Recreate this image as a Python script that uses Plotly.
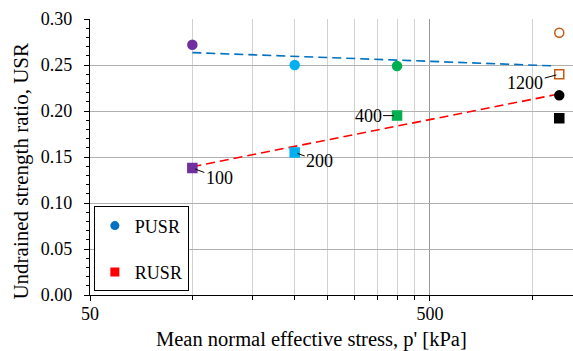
import math
import plotly.graph_objects as go

# ---- data ----
stress = [100, 200, 400, 1200, 1200]
pusr = [0.272, 0.250, 0.249, 0.285, 0.217]
rusr = [0.138, 0.155, 0.195, 0.240, 0.192]
point_colors = ["#7030A0", "#00B0F0", "#00B050", "#C55A11", "#000000"]
circle_symbols = ["circle", "circle", "circle", "circle-open", "circle"]
square_symbols = ["square", "square", "square", "square-open", "square"]

trend_x = [100, 1165]
pusr_trend = [0.2635, 0.249]
rusr_trend = [0.1395, 0.2176]

label_points_x = [100, 200, 400, 1200]
label_points_y = [0.138, 0.155, 0.195, 0.240]
label_texts = ["100", "200", "400", "1200"]
label_ax = [27, 25, -29, -34]
label_ay = [10, 9, 0, 9]

x_tick_vals = [50, 500]
x_minor_vals = [100, 150, 200, 250, 300, 350, 400, 450, 1000]

x_title = "Mean normal effective stress, p' [kPa]"
y_title = "Undrained strength ratio, USR"

FONT = "Liberation Serif, Times New Roman, serif"

fig = go.Figure()

fig.add_trace(go.Scatter(x=trend_x, y=pusr_trend, mode="lines",
                         line=dict(color="#0070C0", width=1.6, dash="9px,5px"),
                         showlegend=False, hoverinfo="skip"))
fig.add_trace(go.Scatter(x=trend_x, y=rusr_trend, mode="lines",
                         line=dict(color="#FF0000", width=1.6, dash="9px,5px"),
                         showlegend=False, hoverinfo="skip"))

fig.add_trace(go.Scatter(x=stress, y=pusr, mode="markers",
                         marker=dict(color=point_colors, symbol=circle_symbols, size=9,
                                     line=dict(width=1.5, color=point_colors)),
                         showlegend=False))
fig.add_trace(go.Scatter(x=stress, y=rusr, mode="markers",
                         marker=dict(color=point_colors, symbol=square_symbols, size=9,
                                     line=dict(width=1.5, color=point_colors)),
                         showlegend=False))

# legend entries
fig.add_trace(go.Scatter(x=[None], y=[None], mode="markers", name="PUSR",
                         marker=dict(color="#0070C0", symbol="circle", size=9),
                         legendgroup="a"))
fig.add_trace(go.Scatter(x=[None], y=[None], mode="markers", name="RUSR",
                         marker=dict(color="#FF0000", symbol="square", size=9),
                         legendgroup="b"))

for lx, ly, lt, ax, ay in zip(label_points_x, label_points_y, label_texts, label_ax, label_ay):
    fig.add_annotation(x=math.log10(lx), y=ly, text=lt, showarrow=True,
                       arrowhead=0, arrowwidth=1, arrowcolor="black",
                       ax=ax, ay=ay, standoff=3,
                       font=dict(family=FONT, size=18, color="black"))

# axis titles
fig.add_annotation(xref="paper", yref="paper", x=0.4596, y=-0.161, text=x_title,
                   showarrow=False, xanchor="center", yanchor="middle",
                   font=dict(family=FONT, size=20.5, color="black"))
fig.add_annotation(xref="paper", yref="paper", x=-0.143, y=0.4505, text=y_title,
                   showarrow=False, textangle=-90, xanchor="center", yanchor="middle",
                   font=dict(family=FONT, size=21, color="black"))

fig.update_layout(
    width=573, height=351,
    margin=dict(l=90, r=0, t=19, b=56),
    paper_bgcolor="white", plot_bgcolor="white",
    font=dict(family=FONT, size=18, color="black"),
    legend=dict(x=0.008, y=0.013, xanchor="left", yanchor="bottom",
                bordercolor="black", borderwidth=1, bgcolor="white",
                font=dict(family=FONT, size=18), tracegroupgap=20,
                traceorder="grouped"),
    xaxis=dict(type="log", range=[math.log10(50), math.log10(1317)],
               tickmode="array", tickvals=x_tick_vals, ticktext=[str(v) for v in x_tick_vals],
               showgrid=True, gridcolor="#9a9a9a", gridwidth=1,
               showline=True, linecolor="black", linewidth=1.3,
               ticks="outside", ticklen=5, tickcolor="black", ticklabelstandoff=-3,
               minor=dict(tickmode="array", tickvals=x_minor_vals, showgrid=True,
                          gridcolor="#d2d2d2", gridwidth=1, ticks="outside",
                          ticklen=4, tickcolor="black"),
               zeroline=False),
    yaxis=dict(range=[0, 0.30], dtick=0.05, tickformat=".2f",
               showgrid=True, gridcolor="#b0b0b0", gridwidth=1,
               showline=True, linecolor="black", linewidth=1.3,
               ticks="outside", ticklen=5, tickcolor="black", ticklabelstandoff=8,
               minor=dict(dtick=0.01, ticks="outside", ticklen=3, tickcolor="black",
                          showgrid=False),
               zeroline=False),
)

fig.write_html("out.html")
